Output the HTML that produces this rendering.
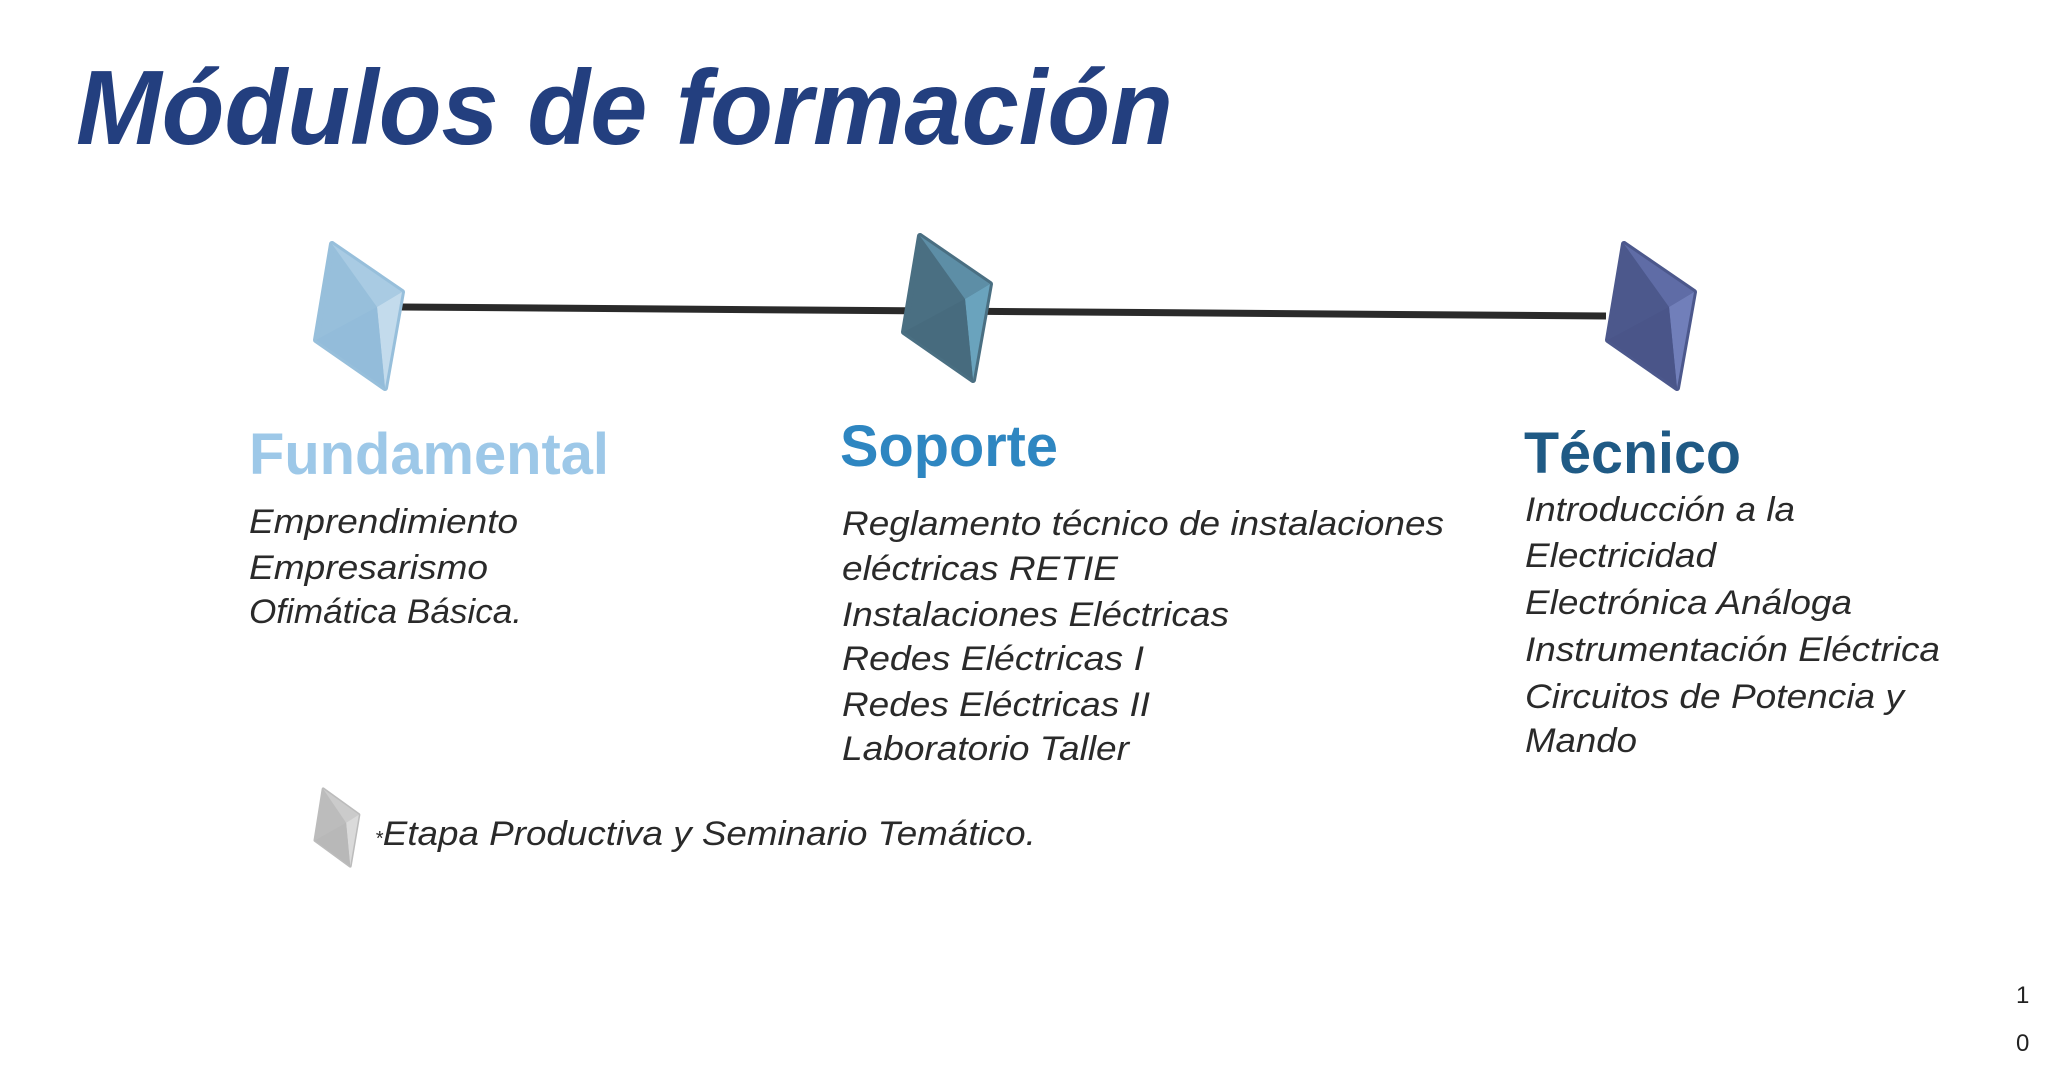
<!DOCTYPE html>
<html><head><meta charset="utf-8"><style>
html,body{margin:0;padding:0;background:#fff;}
svg{display:block;}
</style></head><body>
<svg width="2048" height="1073" viewBox="0 0 2048 1073" xmlns="http://www.w3.org/2000/svg">
<defs>
<g id="dm">
  <polygon points="16,0 86,48 69,144 0,96" fill="var(--a)" stroke="var(--a)" stroke-width="6" stroke-linejoin="round"/>
  <polygon points="16,0 86,48 61,63" fill="var(--b)"/>
  <polygon points="86,48 69,144 61,63" fill="var(--c)"/>
  <polygon points="0,96 61,63 69,144" fill="var(--d)"/>
</g>
</defs>
<text x="76" y="144" font-family="Liberation Sans, sans-serif" font-weight="bold" font-style="italic" font-size="106" fill="#233f7f" textLength="1097" lengthAdjust="spacingAndGlyphs">Módulos de formación</text>

<line x1="401" y1="307" x2="1606" y2="316" stroke="#2a2a2a" stroke-width="7"/>

<g transform="translate(316,244)" style="--a:#97bfdb;--b:#a9cbe3;--c:#c3dbec;--d:#93bcda"><use href="#dm"/></g>
<g transform="translate(904,236)" style="--a:#4a6f82;--b:#5d8ea6;--c:#6aa3bd;--d:#476b7e"><use href="#dm"/></g>
<g transform="translate(1608,244)" style="--a:#4c588c;--b:#5f6ca6;--c:#717fba;--d:#4a5589"><use href="#dm"/></g>
<g transform="translate(315,789) scale(0.51,0.535)" style="--a:#bcbcbc;--b:#cbcbcb;--c:#dadada;--d:#b8b8b8"><use href="#dm"/></g>

<g font-family="Liberation Sans, sans-serif" font-weight="bold" font-size="58">
<text x="249" y="474" fill="#9dc8e8" textLength="360" lengthAdjust="spacingAndGlyphs">Fundamental</text>
<text x="840" y="466" fill="#2e86c1" textLength="218" lengthAdjust="spacingAndGlyphs">Soporte</text>
<text x="1524" y="473" fill="#1f5a85" textLength="217" lengthAdjust="spacingAndGlyphs">Técnico</text>
</g>

<g font-family="Liberation Sans, sans-serif" font-style="italic" font-size="34" fill="#2a2a2a">
<text x="249" y="533" textLength="269" lengthAdjust="spacingAndGlyphs">Emprendimiento</text>
<text x="249" y="579" textLength="239" lengthAdjust="spacingAndGlyphs">Empresarismo</text>
<text x="249" y="623" textLength="273" lengthAdjust="spacingAndGlyphs">Ofimática Básica.</text>

<text x="842" y="535" textLength="602" lengthAdjust="spacingAndGlyphs">Reglamento técnico de instalaciones</text>
<text x="842" y="580" textLength="276" lengthAdjust="spacingAndGlyphs">eléctricas RETIE</text>
<text x="842" y="626" textLength="387" lengthAdjust="spacingAndGlyphs">Instalaciones Eléctricas</text>
<text x="842" y="670" textLength="302" lengthAdjust="spacingAndGlyphs">Redes Eléctricas I</text>
<text x="842" y="716" textLength="308" lengthAdjust="spacingAndGlyphs">Redes Eléctricas II</text>
<text x="842" y="760" textLength="287" lengthAdjust="spacingAndGlyphs">Laboratorio Taller</text>

<text x="1525" y="521" textLength="270" lengthAdjust="spacingAndGlyphs">Introducción a la</text>
<text x="1525" y="567" textLength="191" lengthAdjust="spacingAndGlyphs">Electricidad</text>
<text x="1525" y="614" textLength="327" lengthAdjust="spacingAndGlyphs">Electrónica Análoga</text>
<text x="1525" y="661" textLength="415" lengthAdjust="spacingAndGlyphs">Instrumentación Eléctrica</text>
<text x="1525" y="708" textLength="379" lengthAdjust="spacingAndGlyphs">Circuitos de Potencia y</text>
<text x="1525" y="752" textLength="112" lengthAdjust="spacingAndGlyphs">Mando</text>

<text x="375" y="845"><tspan font-size="20">*</tspan><tspan textLength="653" lengthAdjust="spacingAndGlyphs">Etapa Productiva y Seminario Temático.</tspan></text>
</g>

<g font-family="Liberation Sans, sans-serif" font-size="24" fill="#222">
<text x="2016" y="1003">1</text>
<text x="2016" y="1051">0</text>
</g>
</svg>
</body></html>
